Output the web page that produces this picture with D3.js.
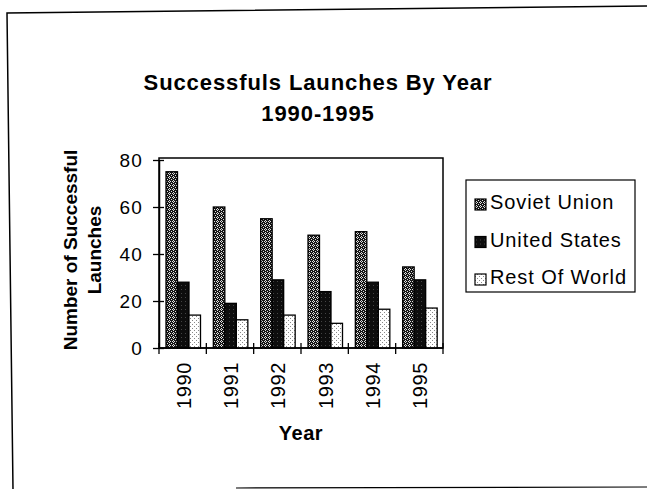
<!DOCTYPE html>
<html><head><meta charset="utf-8">
<script src="https://cdn.jsdelivr.net/npm/d3@7"></script>
<style>body{margin:0;background:#fff}svg{display:block}</style>
</head><body>
<script>
const years = ["1990","1991","1992","1993","1994","1995"];
const seriesNames = ["Soviet Union","United States","Rest Of World"];
const soviet = [75, 60, 55, 48, 49.5, 34.5];
const usa = [28, 19, 29, 24, 28, 29];
const rest = [14, 12, 14, 10.5, 16.5, 17];
const yTicks = [0, 20, 40, 60, 80];

(function(){
const W = 647, H = 489;
const svg = d3.select("body").append("svg").attr("width", W).attr("height", H);
const defs = svg.append("defs");

// patterns
const p1 = defs.append("pattern").attr("id","pSoviet").attr("patternUnits","userSpaceOnUse").attr("width",4).attr("height",4);
p1.append("rect").attr("width",4).attr("height",4).attr("fill","#161616");
[[1,0],[0,1],[2,1],[1,2],[3,3]].forEach(([px,py])=>p1.append("rect").attr("x",px).attr("y",py).attr("width",1).attr("height",1).attr("fill","#e0e0e0"));
const p2 = defs.append("pattern").attr("id","pUS").attr("patternUnits","userSpaceOnUse").attr("width",4).attr("height",4);
p2.append("rect").attr("width",4).attr("height",4).attr("fill","#0d0d0d");
p2.append("rect").attr("x",1).attr("y",1).attr("width",1).attr("height",1).attr("fill","#444");
const p3 = defs.append("pattern").attr("id","pRest").attr("patternUnits","userSpaceOnUse").attr("width",4).attr("height",4);
p3.append("rect").attr("width",4).attr("height",4).attr("fill","#fff");
[[0,0],[2,2]].forEach(([px,py])=>p3.append("rect").attr("x",px).attr("y",py).attr("width",1).attr("height",1).attr("fill","#888"));
const fills = ["url(#pSoviet)","url(#pUS)","url(#pRest)"];
const seriesData = [soviet, usa, rest];

const font = "'Liberation Sans', Arial, sans-serif";

// outer frame (slightly skewed scan)
svg.append("path").attr("d","M13,489 L7,13 L647,6").attr("fill","none").attr("stroke","#000").attr("stroke-width",1.5);
svg.append("line").attr("x1",236).attr("x2",647).attr("y1",488).attr("y2",487).attr("stroke","#000").attr("stroke-width",1.2);

// title
svg.append("text").attr("x",318).attr("y",90).attr("text-anchor","middle").attr("font-family",font).attr("font-weight","bold").attr("font-size",22).attr("letter-spacing",0.9).text("Successfuls Launches By Year");
svg.append("text").attr("x",318).attr("y",121).attr("text-anchor","middle").attr("font-family",font).attr("font-weight","bold").attr("font-size",22).attr("letter-spacing",0.9).text("1990-1995");

const pLeft = 159, pRight = 443, pTop = 158, pBottom = 348;
const x = d3.scaleBand().domain(years).range([pLeft, pRight]).paddingInner(0).paddingOuter(0);
const y = d3.scaleLinear().domain([0, 80]).range([pBottom, 160]);
const barW = 11.5;
const groupOffset = 7;

// plot box
svg.append("rect").attr("x",pLeft).attr("y",pTop).attr("width",pRight-pLeft).attr("height",pBottom-pTop).attr("fill","none").attr("stroke","#000").attr("stroke-width",1.5);

// bars
seriesData.forEach((vals, si) => {
  svg.append("g").selectAll("rect").data(vals).join("rect")
    .attr("x", (d,i) => x(years[i]) + groupOffset + si*barW)
    .attr("y", d => y(d))
    .attr("width", barW)
    .attr("height", d => pBottom - y(d))
    .attr("fill", fills[si])
    .attr("stroke","#000").attr("stroke-width",1.3);
});

// y axis
const yAxis = svg.append("g").attr("transform",`translate(${pLeft},0)`)
  .call(d3.axisLeft(y).tickValues(yTicks).tickSize(6).tickSizeOuter(0).tickPadding(5));
yAxis.select(".domain").attr("stroke","#000").attr("stroke-width",1.5);
yAxis.selectAll(".tick line").attr("stroke","#000").attr("x2",5).attr("x1",-6).attr("stroke-width",1.3);
yAxis.selectAll("text").attr("font-family",font).attr("font-size",19).attr("letter-spacing",1.2).attr("fill","#000").attr("x",-16).attr("dy","0.36em");

// x axis ticks at band boundaries
const xAxisG = svg.append("g");
xAxisG.append("line").attr("x1",pLeft).attr("x2",pRight).attr("y1",pBottom).attr("y2",pBottom).attr("stroke","#000").attr("stroke-width",1.5);
const bounds = years.map(d => x(d)).concat([pRight]);
xAxisG.selectAll("line.t").data(bounds).join("line").attr("class","t")
  .attr("x1",d=>d).attr("x2",d=>d).attr("y1",pBottom-5).attr("y2",pBottom+6).attr("stroke","#000").attr("stroke-width",1.3);
xAxisG.selectAll("text").data(years).join("text")
  .attr("transform", d => `translate(${x(d)+x.bandwidth()/2+8},${362}) rotate(-90)`)
  .attr("text-anchor","end").attr("font-family",font).attr("font-size",20).attr("letter-spacing",0.6).text(d=>d);

// axis titles
svg.append("text").attr("x",301).attr("y",440).attr("text-anchor","middle").attr("font-family",font).attr("font-weight","bold").attr("font-size",20).attr("letter-spacing",0.5).text("Year");
svg.append("text").attr("transform","translate(77,250) rotate(-90)").attr("text-anchor","middle").attr("font-family",font).attr("font-weight","bold").attr("font-size",19).text("Number of Successful");
svg.append("text").attr("transform","translate(101,250) rotate(-90)").attr("text-anchor","middle").attr("font-family",font).attr("font-weight","bold").attr("font-size",19).text("Launches");

// legend
svg.append("rect").attr("x",466).attr("y",180).attr("width",169).attr("height",112).attr("fill","none").attr("stroke","#000").attr("stroke-width",1.2);
const lg = svg.append("g").selectAll("g").data(seriesNames).join("g")
  .attr("transform",(d,i)=>`translate(475,${205 + i*37.5})`);
lg.append("rect").attr("x",0).attr("y",-6).attr("width",11).attr("height",11).attr("fill",(d,i)=>fills[i]).attr("stroke","#000").attr("stroke-width",1.2);
lg.append("text").attr("x",15).attr("y",4).attr("font-family",font).attr("font-size",20).attr("letter-spacing",0.9).text(d=>d);
})();
</script>
</body></html>
